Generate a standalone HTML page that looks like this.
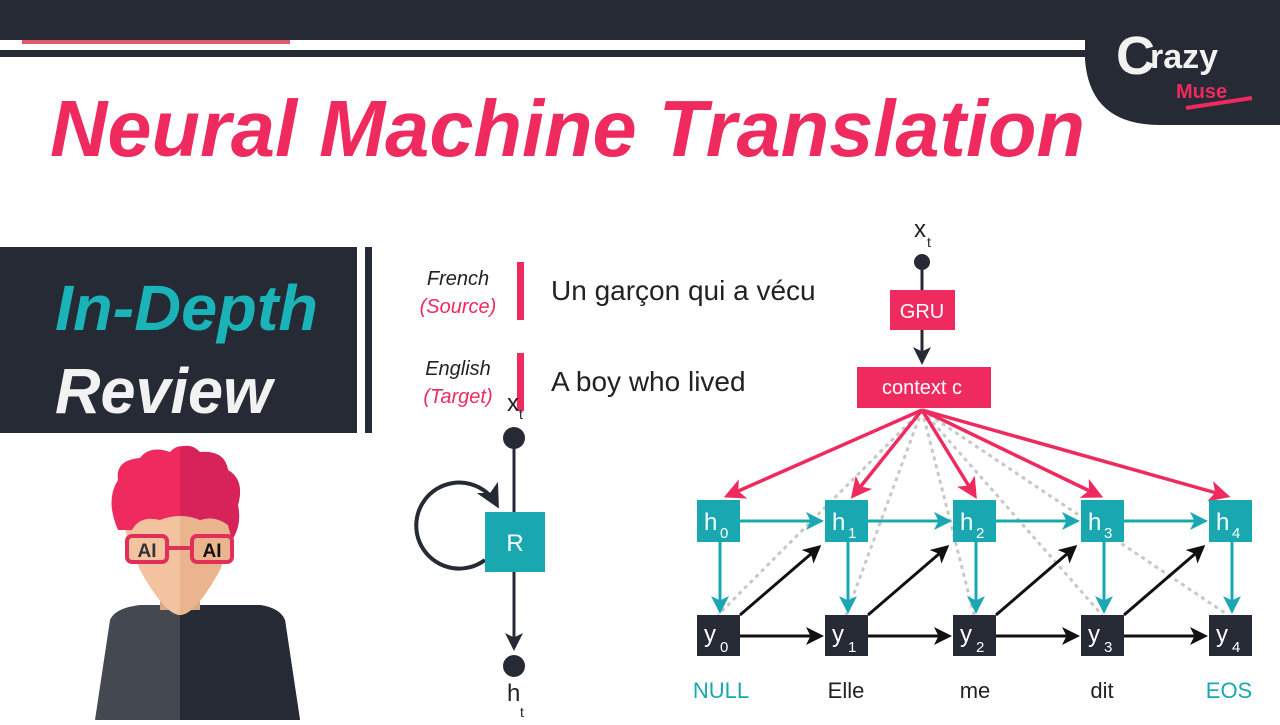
<!DOCTYPE html>
<html><head><meta charset="utf-8"><style>
body{margin:0;width:1280px;height:720px;overflow:hidden;background:#fff;font-family:"Liberation Sans",sans-serif}
</style></head><body>
<svg width="1280" height="720" viewBox="0 0 1280 720" xmlns="http://www.w3.org/2000/svg">
<defs>
<marker id="ap" markerWidth="6" markerHeight="6" refX="5" refY="3" orient="auto" markerUnits="strokeWidth"><path d="M0,0 L6,3 L0,6 L1.5,3z" fill="#ee2a5e"/></marker>
<marker id="at" markerWidth="6" markerHeight="6" refX="5" refY="3" orient="auto" markerUnits="strokeWidth"><path d="M0,0 L6,3 L0,6 L1.5,3z" fill="#1aa8b0"/></marker>
<marker id="ak" markerWidth="6" markerHeight="6" refX="5" refY="3" orient="auto" markerUnits="strokeWidth"><path d="M0,0 L6,3 L0,6 L1.5,3z" fill="#111"/></marker>
<marker id="ad" markerWidth="6" markerHeight="6" refX="5" refY="3" orient="auto" markerUnits="strokeWidth"><path d="M0,0 L6,3 L0,6 L1.5,3z" fill="#252a35"/></marker>
</defs>
<rect x="0" y="0" width="1280" height="40" fill="#262a35"/>
<rect x="22" y="40" width="268" height="4" fill="#e05a6a"/>
<rect x="0" y="50" width="1090" height="7" fill="#262a35"/>
<path d="M1085,0 H1280 V125 H1160 Q1090,125 1085,60 Z" fill="#262a35"/>
<text x="1116" y="74" font-size="54" font-weight="bold" fill="#f2f2f2">C</text>
<text x="1150" y="68" font-size="34" font-weight="bold" fill="#f2f2f2">razy</text>
<text x="1176" y="98" font-size="20" font-weight="bold" fill="#ee2a5e">Muse</text>
<path d="M1186,108 L1252,98" stroke="#ee2a5e" stroke-width="4"/>
<text x="50" y="156" font-size="80" font-weight="bold" font-style="italic" fill="#ee2a5e" textLength="1035" lengthAdjust="spacingAndGlyphs">Neural Machine Translation</text>
<rect x="0" y="247" width="357" height="186" fill="#262a35"/>
<rect x="365" y="247" width="7" height="186" fill="#262a35"/>
<text x="55" y="330" font-size="64" font-weight="bold" font-style="italic" fill="#1ab3b8" textLength="263" lengthAdjust="spacingAndGlyphs">In-Depth</text>
<text x="55" y="413" font-size="64" font-weight="bold" font-style="italic" fill="#f2f2f2" textLength="217" lengthAdjust="spacingAndGlyphs">Review</text>
<path d="M95,720 L110,620 Q115,608 140,605 L260,605 Q280,608 285,620 L300,720 Z" fill="#444851"/>
<path d="M180,605 L260,605 Q280,608 285,620 L300,720 L180,720 Z" fill="#262a35"/>
<rect x="160" y="585" width="40" height="25" fill="#d8a888"/>
<path d="M125,530 Q120,500 135,495 L225,495 Q240,500 235,530 L220,570 Q195,615 180,615 Q165,615 140,570 Z" fill="#f3c3a0"/>
<path d="M180,495 L225,495 Q240,500 235,530 L220,570 Q195,615 180,615 Z" fill="#eab48e"/>
<path d="M118,530 Q105,500 118,480 Q115,460 140,458 Q150,445 170,452 Q180,440 200,452 Q225,450 228,470 Q245,480 238,505 Q242,525 232,540 L228,525 Q215,515 200,520 Q180,512 160,520 Q140,515 132,530 Z" fill="#ee2a5e"/>
<path d="M180,448 Q190,442 200,452 Q225,450 228,470 Q245,480 238,505 Q242,525 232,540 L228,525 Q215,515 200,520 Q190,515 180,516 Z" fill="#d8235a"/>
<rect x="127" y="536" width="40" height="26" rx="5" fill="#f3c3a0" stroke="#e0305a" stroke-width="4"/>
<rect x="192" y="536" width="40" height="26" rx="5" fill="#eab48e" stroke="#e0305a" stroke-width="4"/>
<path d="M167,548 H192" stroke="#e0305a" stroke-width="4"/>
<text x="147" y="557" font-size="19" font-weight="bold" fill="#333" text-anchor="middle">AI</text>
<text x="212" y="557" font-size="19" font-weight="bold" fill="#111" text-anchor="middle">AI</text>
<g font-size="20" font-style="italic" text-anchor="middle">
<text x="458" y="285" fill="#222">French</text>
<text x="458" y="313" fill="#ee2a5e">(Source)</text>
<text x="458" y="375" fill="#222">English</text>
<text x="458" y="403" fill="#ee2a5e">(Target)</text>
</g>
<rect x="517" y="262" width="7" height="58" fill="#ee2a5e"/>
<rect x="517" y="353" width="7" height="58" fill="#ee2a5e"/>
<text x="551" y="300" font-size="28" fill="#222">Un garçon qui a vécu</text>
<text x="551" y="391" font-size="28" fill="#222">A boy who lived</text>
<text x="507" y="411" font-size="24" fill="#222">x</text><text x="519" y="419" font-size="14" fill="#222">t</text>
<line x1="514" y1="438" x2="514" y2="648" stroke="#252a35" stroke-width="3" marker-end="url(#ad)"/>
<circle cx="514" cy="438" r="11" fill="#252a35"/>
<circle cx="514" cy="666" r="11" fill="#252a35"/>
<path d="M485,560 A43,43 0 1 1 497,505" fill="none" stroke="#252a35" stroke-width="4" marker-end="url(#ad)"/>
<rect x="485" y="512" width="60" height="60" fill="#1aa8b0"/>
<text x="515" y="551" font-size="24" fill="#fff" text-anchor="middle">R</text>
<text x="507" y="701" font-size="24" fill="#222">h</text><text x="520" y="717" font-size="14" fill="#222">t</text>
<text x="914" y="237" font-size="24" fill="#222">x</text><text x="927" y="247" font-size="14" fill="#222">t</text>
<circle cx="922" cy="262" r="8" fill="#252a35"/>
<line x1="922" y1="262" x2="922" y2="290" stroke="#252a35" stroke-width="3"/>
<rect x="890" y="290" width="65" height="40" fill="#ee2a5e"/>
<text x="922" y="318" font-size="20" fill="#fff" text-anchor="middle">GRU</text>
<line x1="922" y1="330" x2="922" y2="362" stroke="#252a35" stroke-width="3" marker-end="url(#ad)"/>
<rect x="857" y="367" width="134" height="41" fill="#ee2a5e"/>
<text x="922" y="394" font-size="20" fill="#fff" text-anchor="middle">context  c</text>
<g stroke="#c8c8c8" stroke-width="3" stroke-dasharray="4,4" fill="none">
<line x1="922" y1="410" x2="718" y2="615"/>
<line x1="922" y1="410" x2="846" y2="615"/>
<line x1="922" y1="410" x2="974" y2="615"/>
<line x1="922" y1="410" x2="1102" y2="615"/>
<line x1="922" y1="410" x2="1228" y2="615"/>
</g>
<g stroke="#ee2a5e" stroke-width="3.5" fill="none">
<line x1="922" y1="410" x2="727" y2="496" marker-end="url(#ap)"/>
<line x1="922" y1="410" x2="853" y2="496" marker-end="url(#ap)"/>
<line x1="922" y1="410" x2="975" y2="496" marker-end="url(#ap)"/>
<line x1="922" y1="410" x2="1100" y2="496" marker-end="url(#ap)"/>
<line x1="922" y1="410" x2="1227" y2="496" marker-end="url(#ap)"/>
</g>
<g stroke="#1aa8b0" stroke-width="3" fill="none">
<line x1="740" y1="521" x2="821" y2="521" marker-end="url(#at)"/>
<line x1="868" y1="521" x2="949" y2="521" marker-end="url(#at)"/>
<line x1="996" y1="521" x2="1077" y2="521" marker-end="url(#at)"/>
<line x1="1124" y1="521" x2="1205" y2="521" marker-end="url(#at)"/>
<line x1="720" y1="542" x2="720" y2="611" marker-end="url(#at)"/>
<line x1="848" y1="542" x2="848" y2="611" marker-end="url(#at)"/>
<line x1="976" y1="542" x2="976" y2="611" marker-end="url(#at)"/>
<line x1="1104" y1="542" x2="1104" y2="611" marker-end="url(#at)"/>
<line x1="1232" y1="542" x2="1232" y2="611" marker-end="url(#at)"/>
</g>
<g stroke="#111" stroke-width="3" fill="none">
<line x1="740" y1="636" x2="821" y2="636" marker-end="url(#ak)"/>
<line x1="868" y1="636" x2="949" y2="636" marker-end="url(#ak)"/>
<line x1="996" y1="636" x2="1077" y2="636" marker-end="url(#ak)"/>
<line x1="1124" y1="636" x2="1205" y2="636" marker-end="url(#ak)"/>
<line x1="740" y1="615" x2="819" y2="547" marker-end="url(#ak)"/>
<line x1="868" y1="615" x2="947" y2="547" marker-end="url(#ak)"/>
<line x1="996" y1="615" x2="1075" y2="547" marker-end="url(#ak)"/>
<line x1="1124" y1="615" x2="1203" y2="547" marker-end="url(#ak)"/>
</g>
<g font-size="24" fill="#fff">
<rect x="697" y="500" width="43" height="42" fill="#1aa8b0"/><text x="704" y="530">h</text><text x="720" y="538" font-size="15">0</text>
<rect x="825" y="500" width="43" height="42" fill="#1aa8b0"/><text x="832" y="530">h</text><text x="848" y="538" font-size="15">1</text>
<rect x="953" y="500" width="43" height="42" fill="#1aa8b0"/><text x="960" y="530">h</text><text x="976" y="538" font-size="15">2</text>
<rect x="1081" y="500" width="43" height="42" fill="#1aa8b0"/><text x="1088" y="530">h</text><text x="1104" y="538" font-size="15">3</text>
<rect x="1209" y="500" width="43" height="42" fill="#1aa8b0"/><text x="1216" y="530">h</text><text x="1232" y="538" font-size="15">4</text>
<rect x="697" y="615" width="43" height="41" fill="#252a35"/><text x="704" y="642">y</text><text x="720" y="652" font-size="15">0</text>
<rect x="825" y="615" width="43" height="41" fill="#252a35"/><text x="832" y="642">y</text><text x="848" y="652" font-size="15">1</text>
<rect x="953" y="615" width="43" height="41" fill="#252a35"/><text x="960" y="642">y</text><text x="976" y="652" font-size="15">2</text>
<rect x="1081" y="615" width="43" height="41" fill="#252a35"/><text x="1088" y="642">y</text><text x="1104" y="652" font-size="15">3</text>
<rect x="1209" y="615" width="43" height="41" fill="#252a35"/><text x="1216" y="642">y</text><text x="1232" y="652" font-size="15">4</text>
</g>
<g font-size="22" text-anchor="middle">
<text x="721" y="698" fill="#1aa8b0">NULL</text>
<text x="846" y="698" fill="#222">Elle</text>
<text x="975" y="698" fill="#222">me</text>
<text x="1102" y="698" fill="#222">dit</text>
<text x="1229" y="698" fill="#1aa8b0">EOS</text>
</g>
</svg>
</body></html>
